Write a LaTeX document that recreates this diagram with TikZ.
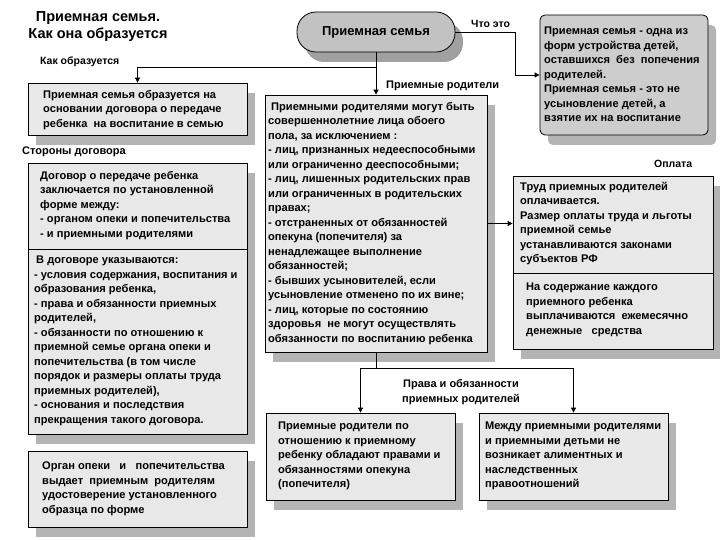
\documentclass[tikz,border=0pt]{standalone}
\usepackage{fontspec}
\setmainfont{Liberation Sans}
\usetikzlibrary{arrows.meta,shadows,calc}
\definecolor{boxfill}{HTML}{E8E8E8}
\definecolor{darkfill}{HTML}{CDCDCD}
\definecolor{ovalfill}{HTML}{C2C2C2}
\definecolor{shadowgray}{HTML}{B4B4B4}
\definecolor{ovalshadow}{HTML}{A0A0A0}
\begin{document}
\begin{tikzpicture}[x=1pt,y=-1pt,
  shad/.style={drop shadow={shadow xshift=8pt,shadow yshift=-10pt,fill=shadowgray,opacity=1}},
  box/.style={draw=black,line width=0.8pt,fill=boxfill,inner sep=0pt,shad},
  rbox/.style={box,fill=darkfill,rounded corners=5pt},
  oval/.style={draw=black,line width=0.8pt,fill=ovalfill,inner sep=0pt,rounded corners=19pt,
     drop shadow={shadow xshift=8pt,shadow yshift=-10pt,fill=ovalshadow,opacity=1}},
  txt/.style={anchor=north west,inner sep=0pt,align=left,font=\fontsize{11.1}{14.5}\selectfont\bfseries},
  lbl/.style={inner sep=0pt,font=\fontsize{10.5}{12}\selectfont\bfseries},
  conn/.style={line width=0.8pt},
  arr/.style={conn,-{Triangle[length=5pt,width=5pt]}}
]
\useasboundingbox[fill=white] (0,0) rectangle (720,540);

% title
\node[font=\fontsize{14.5}{17.5}\selectfont\bfseries,align=center] (title) at (98,26.5) {Приемная семья.\\Как она образуется};

% boxes
\node[oval,minimum width=158pt,minimum height=40pt] (st) at (376,32) {};
\node[font=\fontsize{13}{15}\selectfont\bfseries] (sttxt) at (st.center) {Приемная семья};

\node[rbox,minimum width=168pt,minimum height=120pt] (rt) at (624,75) {};
\node[box,minimum width=219pt,minimum height=52pt] (b1) at (137.5,109) {};
\node[box,minimum width=219pt,minimum height=271pt] (b2) at (137.5,298.5) {};
\draw[conn] (b2.west |- 0,249) -- (b2.east |- 0,249);
\node[box,minimum width=219pt,minimum height=76pt] (b3) at (137.5,489) {};
\node[box,minimum width=222pt,minimum height=257pt] (cb) at (376,223.5) {};
\node[box,minimum width=200pt,minimum height=173pt] (rb) at (613,262.5) {};
\draw[conn] (rb.west |- 0,273) -- (rb.east |- 0,273);
\node[box,minimum width=189pt,minimum height=87pt] (bl) at (360.5,456.5) {};
\node[box,minimum width=189pt,minimum height=87pt] (br) at (573.5,456.5) {};

% texts
\node[txt] (t1) at (43,90) {Приемная семья образуется на\\основании договора о передаче\\ребенка\ \ на воспитание в семью};
\node[txt] (t2a) at (40,171) {Договор о передаче ребенка\\заключается по установленной\\форме между:\\- органом опеки и попечительства\\- и приемными родителями};
\node[txt] (t2b) at (34,256) {\hspace{2pt}В договоре указываются:\\- условия содержания, воспитания и\\образования ребенка,\\- права и обязанности приемных\\родителей,\\- обязанности по отношению к\\приемной семье органа опеки и\\попечительства (в том числе\\порядок и размеры оплаты труда\\приемных родителей),\\- основания и последствия\\прекращения такого договора.};
\node[txt] (t3) at (42,462) {Орган опеки\ \ \ и\ \ \ попечительства\\выдает\ \ приемным\ \ родителям\\удостоверение установленного\\образца по форме};
\node[txt] (tc) at (268,102) {\hspace{3pt}Приемными родителями могут быть\\совершеннолетние лица обоего\\пола, за исключением :\\- лиц, признанных недееспособными\\или ограниченно дееспособными;\\- лиц, лишенных родительских прав\\или ограниченных в родительских\\правах;\\- отстраненных от обязанностей\\опекуна (попечителя) за\\ненадлежащее выполнение\\обязанностей;\\- бывших усыновителей, если\\усыновление отменено по их вине;\\- лиц, которые по состоянию\\здоровья\ \ не могут осуществлять\\обязанности по воспитанию ребенка};
\node[txt] (trt) at (544,27) {Приемная семья - одна из\\форм устройства детей,\\оставшихся\ \ без\ \ попечения\\родителей.\\Приемная семья - это не\\усыновление детей, а\\взятие их на воспитание};
\node[txt] (trba) at (520,182) {Труд приемных родителей\\оплачивается.\\Размер оплаты труда и льготы\\приемной семье\\устанавливаются законами\\субъектов РФ};
\node[txt] (trbb) at (526,283) {На содержание каждого\\приемного ребенка\\выплачиваются\ \ ежемесячно\\денежные\ \ \ средства};
\node[txt] (tbl) at (278,422) {Приемные родители по\\отношению к приемному\\ребенку обладают правами и\\обязанностями опекуна\\(попечителя)};
\node[txt] (tbr) at (485,422) {Между приемными родителями\\и приемными детьми не\\возникает алиментных и\\наследственных\\правоотношений};

% labels
\node[lbl,anchor=west] (l1) at (40,62) {Как образуется};
\node[lbl,anchor=west,font=\fontsize{11}{12}\selectfont\bfseries] (l2) at (22,152) {Стороны договора};
\node[lbl,anchor=west] (l3) at (471,24) {Что это};
\node[lbl,anchor=west,font=\fontsize{11}{12}\selectfont\bfseries] (l4) at (386,86) {Приемные родители};
\node[lbl,anchor=west] (l5) at (654,164) {Оплата};
\node[lbl,align=center,font=\fontsize{11}{15}\selectfont\bfseries] (l6) at (461,392) {Права и обязанности\\приемных родителей};

% connectors
\coordinate (j1) at (st.south |- 0,67);
\coordinate (j2) at (cb.south |- 0,368);
\draw[arr] (st.south) -- (cb.north);
\draw[arr] (j1) -| (b1.north);
\draw[arr] (st.east) -- ++(60,0) |- (rt.west);
\draw[arr] (cb.east) -- (cb.east -| rb.west);
\draw[conn] (cb.south) -- (j2);
\draw[arr] (j2) -| (bl.north);
\draw[arr] (j2) -| (br.north);
\end{tikzpicture}
\end{document}
